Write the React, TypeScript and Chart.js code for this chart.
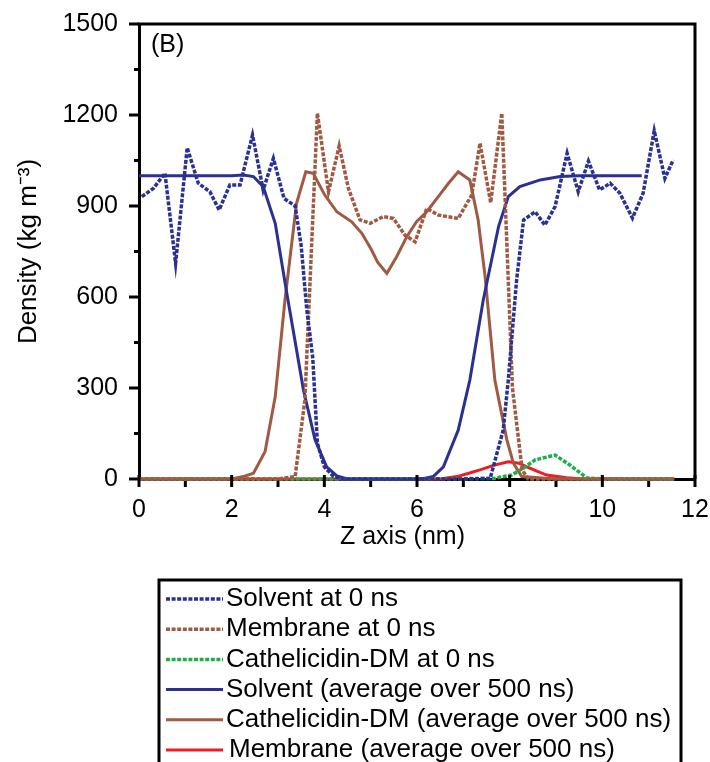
import React, { useEffect, useRef } from 'react';
import { Chart, registerables } from 'chart.js';

Chart.register(...registerables);

// ---------- data ----------
const solvent0X = [0.06, 0.31, 0.56, 0.79, 1.04, 1.28, 1.53, 1.73, 1.96, 2.18, 2.45, 2.68, 2.9, 3.13, 3.37, 3.5, 3.62, 3.75, 3.85, 4.0, 4.2, 4.4, 5.0, 6.0, 7.0, 7.58, 7.86, 7.97, 8.15, 8.3, 8.55, 8.76, 8.98, 9.24, 9.48, 9.7, 9.94, 10.17, 10.38, 10.65, 10.88, 11.12, 11.35, 11.53];
const solvent0Y = [931, 958, 1008, 711, 1092, 975, 947, 887, 969, 969, 1134, 953, 1057, 925, 900, 770, 560, 400, 118, 40, 8, 0, 0, 0, 0, 2, 161, 326, 656, 854, 881, 837, 898, 1074, 947, 1048, 953, 975, 942, 860, 942, 1148, 991, 1052];

const membrane0X = [0, 1, 2, 3, 3.37, 3.58, 3.85, 4.09, 4.32, 4.52, 4.77, 4.99, 5.27, 5.49, 5.74, 5.96, 6.21, 6.46, 6.89, 7.18, 7.36, 7.59, 7.83, 8.06, 8.15, 8.27, 8.4, 9, 10, 11, 11.55];
const membrane0Y = [0, 0, 0, 0, 8, 260, 1206, 947, 1098, 958, 854, 843, 865, 859, 804, 782, 892, 870, 859, 936, 1107, 911, 1206, 300, 184, 30, 0, 0, 0, 0, 0];

const cathel0X = [0, 2, 4, 6, 7.67, 8.04, 8.29, 8.55, 8.98, 9.3, 9.66, 10, 11, 11.55];
const cathel0Y = [0, 0, 0, 0, 2, 13, 35, 63, 79, 46, 4, 0, 0, 0];

const solventAvgX = [0, 0.5, 1, 1.5, 2, 2.25, 2.47, 2.68, 2.94, 3.19, 3.55, 3.8, 4.05, 4.27, 4.5, 5, 5.5, 6.1, 6.35, 6.57, 6.89, 7.14, 7.43, 7.76, 7.97, 8.22, 8.66, 9.09, 9.5, 10, 10.5, 10.85];
const solventAvgY = [1000, 1000, 1000, 1000, 1000, 1002, 997, 964, 843, 612, 293, 129, 40, 10, 0, 0, 0, 0, 8, 40, 161, 326, 590, 832, 931, 964, 986, 997, 1000, 1000, 1000, 1000];

const cathelAvgX = [0, 1, 2, 2.25, 2.47, 2.72, 2.94, 3.15, 3.4, 3.6, 3.76, 4.01, 4.27, 4.59, 4.81, 5.02, 5.15, 5.35, 5.56, 5.78, 5.99, 6.21, 6.46, 6.68, 6.89, 7.14, 7.32, 7.47, 7.68, 7.94, 8.08, 8.26, 9, 10, 11, 11.55];
const cathelAvgY = [0, 0, 0, 8, 19, 90, 271, 590, 909, 1013, 1008, 936, 881, 848, 810, 755, 715, 678, 733, 799, 848, 881, 931, 975, 1013, 986, 854, 667, 326, 129, 52, 8, 0, 0, 0, 0];

const membraneAvgX = [0, 2, 4, 6, 6.5, 6.86, 7.1, 7.36, 7.65, 7.97, 8.2, 8.37, 8.6, 8.8, 9.23, 9.6, 10, 11, 11.55];
const membraneAvgY = [0, 0, 0, 0, 0, 8, 18, 30, 45, 57, 52, 40, 25, 13, 4, 0, 0, 0, 0];

const seriesLabels = [
  'Solvent at 0 ns',
  'Membrane at 0 ns',
  'Cathelicidin-DM at 0 ns',
  'Solvent (average over 500 ns)',
  'Cathelicidin-DM (average over 500 ns)',
  'Membrane (average over 500 ns)',
];

const xTicksMajor = [0, 2, 4, 6, 8, 10, 12];
const xTicksMinor = [1, 3, 5, 7, 9, 11];
const yTicksMajor = [0, 300, 600, 900, 1200, 1500];
const yTicksMinor = [150, 450, 750, 1050, 1350];

const panelLabel = '(B)';
const xTitle = 'Z axis (nm)';
const yTitle = 'Density (kg m\u207B\u00B3)';

// ---------- styling ----------
const FONT = "'Liberation Sans', Arial, Helvetica, sans-serif";
const BLUE = '#2b3192';
const BROWN = '#a05a44';
const GREEN = '#1fae4b';
const RED = '#ee1d24';

const pts = (xs: number[], ys: number[]) => xs.map((x, i) => ({ x, y: ys[i] }));

const decorPlugin = {
  id: 'decor',
  afterDraw(chart: any) {
    const { ctx, chartArea: a, scales } = chart;
    const xs = scales.x;
    const ys = scales.y;
    ctx.save();
    ctx.strokeStyle = '#000';
    ctx.lineCap = 'butt';
    ctx.lineWidth = 3;
    ctx.beginPath();
    ctx.moveTo(a.left - 1.5, a.top);
    ctx.lineTo(a.right, a.top);
    ctx.lineTo(a.right, a.bottom);
    ctx.stroke();
    xTicksMajor.forEach((v) => {
      const px = xs.getPixelForValue(v);
      ctx.beginPath();
      ctx.moveTo(px, a.bottom - 4);
      ctx.lineTo(px, a.bottom + 8);
      ctx.stroke();
    });
    xTicksMinor.forEach((v) => {
      const px = xs.getPixelForValue(v);
      ctx.beginPath();
      ctx.moveTo(px, a.bottom + 2);
      ctx.lineTo(px, a.bottom + 8);
      ctx.stroke();
    });
    yTicksMajor.forEach((v) => {
      const py = ys.getPixelForValue(v);
      ctx.beginPath();
      ctx.moveTo(a.left - 10, py);
      ctx.lineTo(a.left, py);
      ctx.stroke();
    });
    yTicksMinor.forEach((v) => {
      const py = ys.getPixelForValue(v);
      ctx.beginPath();
      ctx.moveTo(a.left - 5, py);
      ctx.lineTo(a.left, py);
      ctx.stroke();
    });
    ctx.fillStyle = '#000';
    ctx.font = `25px ${FONT}`;
    ctx.textBaseline = 'middle';
    ctx.textAlign = 'left';
    ctx.fillText(panelLabel, a.left + 12, a.top + 21);

    // x-axis title (sits slightly left of the plot centre in the reference)
    ctx.textAlign = 'center';
    ctx.fillText(xTitle, 402.5, 537);
    ctx.textAlign = 'left';

    // legend box
    const boxL = 159;
    const boxR = 681;
    const boxT = 580;
    ctx.lineWidth = 3;
    ctx.strokeStyle = '#000';
    ctx.strokeRect(boxL, boxT, boxR - boxL, 220);
    ctx.font = `26px ${FONT}`;
    chart.data.datasets.forEach((ds: any, i: number) => {
      const yy = 599 + i * 30.2;
      ctx.save();
      ctx.strokeStyle = ds.borderColor;
      ctx.lineWidth = ds.borderWidth;
      ctx.setLineDash(ds.borderDash || []);
      ctx.beginPath();
      ctx.moveTo(166, yy);
      ctx.lineTo(223, yy);
      ctx.stroke();
      ctx.restore();
      ctx.fillStyle = '#000';
      ctx.fillText(ds.label, i === 5 ? 229 : 226, yy);
    });
    ctx.restore();
  },
};

export default function App() {
  const ref = useRef<HTMLCanvasElement | null>(null);

  useEffect(() => {
    if (!ref.current) return;
    Chart.defaults.font.family = FONT;
    Chart.defaults.color = '#000';
    const dashed = [4, 1.6];
    const chart = new Chart(ref.current, {
      type: 'line',
      data: {
        datasets: [
          { label: seriesLabels[0], data: pts(solvent0X, solvent0Y), borderColor: BLUE, borderWidth: 3.5, borderDash: dashed },
          { label: seriesLabels[1], data: pts(membrane0X, membrane0Y), borderColor: BROWN, borderWidth: 3.5, borderDash: dashed },
          { label: seriesLabels[2], data: pts(cathel0X, cathel0Y), borderColor: GREEN, borderWidth: 3.5, borderDash: dashed },
          { label: seriesLabels[3], data: pts(solventAvgX, solventAvgY), borderColor: BLUE, borderWidth: 3 },
          { label: seriesLabels[4], data: pts(cathelAvgX, cathelAvgY), borderColor: BROWN, borderWidth: 3 },
          { label: seriesLabels[5], data: pts(membraneAvgX, membraneAvgY), borderColor: RED, borderWidth: 3 },
        ].map((d) => ({ ...d, pointRadius: 0, tension: 0, fill: false, clip: 6 })) as any,
      },
      options: {
        animation: false,
        responsive: false,
        devicePixelRatio: 1,
        layout: { padding: { top: 24, right: 15, left: 0, bottom: 0 } },
        plugins: { legend: { display: false }, tooltip: { enabled: false } },
        scales: {
          x: {
            type: 'linear',
            min: 0,
            max: 12,
            grid: { display: false, drawTicks: false },
            border: { display: true, color: '#000', width: 3 },
            ticks: { stepSize: 2, padding: 16, color: '#000', font: { size: 25, family: FONT }, maxRotation: 0, callback: (v: any) => String(v) },
            title: { display: false, text: xTitle },
            afterFit: (s: any) => { s.height = 283; s.paddingLeft = 0; s.paddingRight = 0; },
          },
          y: {
            type: 'linear',
            min: 0,
            max: 1500,
            grid: { display: false, drawTicks: false },
            border: { display: true, color: '#000', width: 3 },
            ticks: { stepSize: 300, padding: 21, color: '#000', font: { size: 25, family: FONT }, callback: (v: any) => String(v) },
            title: { display: true, text: yTitle, color: '#000', font: { size: 26, family: FONT }, padding: { top: 13, bottom: 0 } },
            afterFit: (s: any) => { s.width = 139; s.paddingTop = 0; s.paddingBottom = 0; },
          },
        },
      },
      plugins: [decorPlugin],
    });
    return () => chart.destroy();
  }, []);

  return (
    <div style={{ position: 'absolute', left: 0, top: 0, width: 710, height: 762, background: '#fff' }}>
      <canvas ref={ref} width={710} height={762} style={{ display: 'block' }} />
    </div>
  );
}
